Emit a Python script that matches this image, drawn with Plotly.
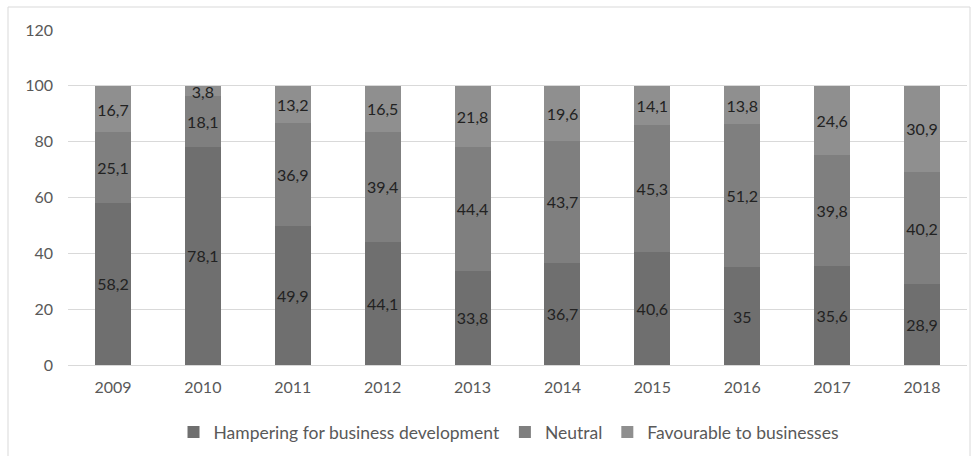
import plotly.graph_objects as go

years = ["2009", "2010", "2011", "2012", "2013", "2014", "2015", "2016", "2017", "2018"]
hampering = [58.2, 78.1, 49.9, 44.1, 33.8, 36.7, 40.6, 35, 35.6, 28.9]
neutral = [25.1, 18.1, 36.9, 39.4, 44.4, 43.7, 45.3, 51.2, 39.8, 40.2]
favourable = [16.7, 3.8, 13.2, 16.5, 21.8, 19.6, 14.1, 13.8, 24.6, 30.9]
y_ticks = [0, 20, 40, 60, 80, 100, 120]

series = [
    ("Hampering for business development", hampering, "#6f6f6f"),
    ("Neutral", neutral, "#7f7f7f"),
    ("Favourable to businesses", favourable, "#8f8f8f"),
]

def fmt(v):
    s = ("%g" % v)
    return s.replace(".", ",")

fig = go.Figure()
for name, vals, col in series:
    fig.add_trace(go.Bar(
        x=years, y=vals, name=name,
        marker=dict(color=col, line=dict(width=0)),
        text=[fmt(v) for v in vals],
        textposition="inside", insidetextanchor="middle",
        textangle=0,
        textfont=dict(color="#222222", size=16, family="Lato"),
        cliponaxis=False,
    ))

fig.update_layout(
    barmode="stack",
    bargap=0.6,
    width=978, height=456,
    margin=dict(l=68, r=11, t=30, b=91, autoexpand=False),
    paper_bgcolor="white", plot_bgcolor="white",
    font=dict(family="Lato", size=16, color="#595959"),
    uniformtext=dict(minsize=16, mode="show"),
    xaxis=dict(showgrid=False, showline=True, linecolor="#d9d9d9", linewidth=1,
               ticks="", ticklabelstandoff=8, tickfont=dict(size=16, color="#595959")),
    yaxis=dict(range=[0, 120], tickvals=y_ticks, showgrid=True, gridcolor="#d9d9d9",
               gridwidth=1, zeroline=False, ticks="", ticklabelstandoff=14,
               tickfont=dict(size=16, color="#595959")),
    legend=dict(orientation="h", x=0.49, xanchor="center", y=-0.2, yanchor="middle",
                font=dict(size=17.5, color="#595959"), traceorder="normal",
                itemwidth=30),
    shapes=[dict(type="rect", xref="paper", yref="paper",
                 x0=-60/899, x1=(970-68)/899, y0=-0.4, y1=(365-7)/335,
                 line=dict(color="#d9d9d9", width=1), layer="below")],
)

fig.write_html("out.html")
